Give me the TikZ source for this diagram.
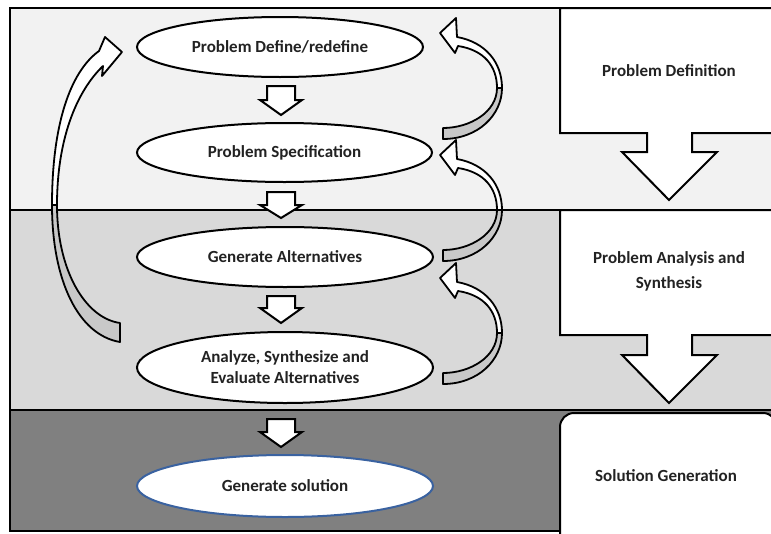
\documentclass[tikz,border=0pt]{standalone}
\usepackage{fontspec}
\setmainfont{Carlito}
\usetikzlibrary{shapes.geometric}
\definecolor{bandA}{HTML}{F2F2F2}
\definecolor{bandB}{HTML}{D9D9D9}
\definecolor{bandC}{HTML}{808080}
\definecolor{ribgrey}{HTML}{C8C8C8}
\definecolor{txt}{HTML}{222222}
\definecolor{ellblue}{HTML}{3A62A0}
\newcommand\blkdown[3]{%
  \draw[blk] (267,#1) -- (295,#1) -- (295,#2) -- (302,#2) -- (281,#3) -- (260,#2) -- (267,#2) -- cycle;}
\newcommand\rightloop[1]{%
  \begin{scope}[shift={(0,#1)}]
  \draw[rib, fill=white] (440,33) -- (456,18) -- (457,37) .. controls (485,42) and (502,62) .. (502,88)
     -- (497,88) .. controls (497,66) and (484,50) .. (458,46) -- (455,53) -- cycle;
  \draw[rib, fill=ribgrey] (502,88) .. controls (502,115) and (478,139) .. (443,139)
     -- (443,128) .. controls (470,128) and (497,112) .. (497,88) -- cycle;
  \end{scope}}
\begin{document}
\begin{tikzpicture}[x=1pt,y=-1pt,
  frame/.style={line width=2.6pt, draw=black},
  boxline/.style={line width=2pt, draw=black, fill=white, line join=miter},
  lbl/.style={font=\fontsize{17}{25}\selectfont\bfseries, text=txt, align=center},
  ell/.style={ellipse, draw=black, fill=white, line width=2pt, inner sep=0pt,
     font=\fontsize{17}{21}\selectfont\bfseries, text=txt, align=center},
  blk/.style={draw=black, fill=white, line width=2pt, line join=miter},
  rib/.style={draw=black, line width=1.8pt, line join=round}]
\useasboundingbox (0,0) rectangle (771,533);
\fill[white] (0,0) rectangle (771,533);
% bands
\fill[bandA] (10,8) rectangle (790,210);
\fill[bandB] (10,210) rectangle (790,410);
\fill[bandC] (10,410) rectangle (790,531);
\draw[frame] (790,8) -- (10,8) -- (10,531) -- (790,531);
\draw[frame] (10,210) -- (790,210);
\draw[frame] (10,410) -- (790,410);
% right column boxes
\draw[boxline] (560,8) -- (790,8) -- (790,133) -- (692,133) -- (692,152) -- (717,152) -- (669,200)
   -- (622,152) -- (647,152) -- (647,133) -- (560,133) -- cycle;
\draw[boxline] (560,210) -- (790,210) -- (790,335) -- (692,335) -- (692,355) -- (717,355) -- (669,403)
   -- (622,355) -- (647,355) -- (647,335) -- (560,335) -- cycle;
\draw[boxline, rounded corners=14pt] (560,545) -- (560,413) -- (777,413) -- (777,545);
\node[lbl] (pdef) at (669,71) {Problem Definition};
\node[lbl] (pana) at (669,271) {Problem Analysis and\\Synthesis};
\node[lbl] (sgen) at (666,476) {Solution Generation};
% ellipses
\node[ell, minimum width=286pt, minimum height=60pt] (e1) at (280,47) {Problem Define/redefine};
\node[ell, minimum width=295pt, minimum height=59pt] (e2) at (284.5,152.5) {Problem Specification};
\node[ell, minimum width=296pt, minimum height=60pt] (e3) at (285,257) {Generate Alternatives};
\node[ell, minimum width=296pt, minimum height=71pt] (e4) at (285,367.5) {Analyze, Synthesize and\\Evaluate Alternatives};
\node[ell, draw=ellblue, minimum width=296pt, minimum height=62pt] (e5) at (285,486) {Generate solution};
% down block arrows
\blkdown{86}{100}{115}
\blkdown{192}{205}{218}
\blkdown{296}{308}{323}
\blkdown{419}{432}{447}
% right loop arrows
\rightloop{0}
\rightloop{122}
\rightloop{245}
% left big arrow
\draw[rib, fill=white] (122,52) -- (105,37) -- (99,51) .. controls (70,72) and (52,125) .. (52,205)
   -- (57,205) .. controls (57,140) and (76,92) .. (103,66) -- (102,76) -- cycle;
\draw[rib, fill=ribgrey] (52,205) .. controls (52,280) and (78,335) .. (120,342)
   -- (120,323) .. controls (85,318) and (57,270) .. (57,205) -- cycle;
\end{tikzpicture}
\end{document}
